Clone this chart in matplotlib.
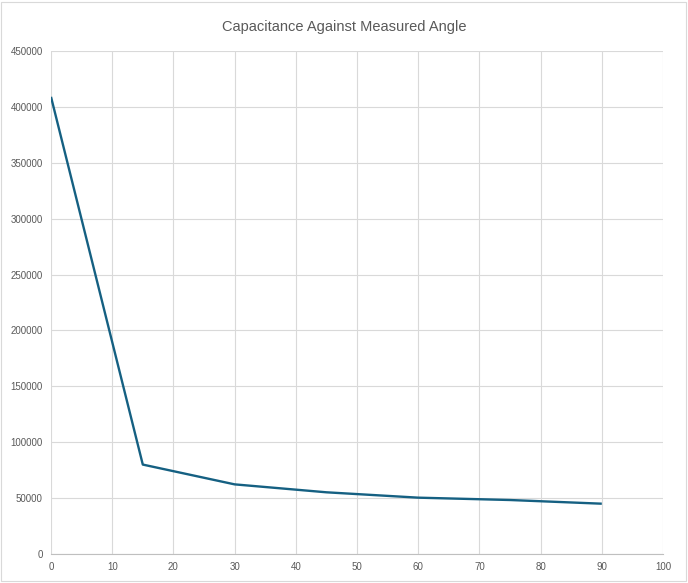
import matplotlib.pyplot as plt
from matplotlib.patches import Rectangle

angle = [0, 15, 30, 45, 60, 75, 90]
capacitance = [409000, 80000, 62300, 55200, 50400, 48300, 45000]

plt.rcParams['font.family'] = ['Liberation Sans', 'DejaVu Sans']

fig = plt.figure(figsize=(6.88, 5.83), dpi=100)
ax = fig.add_axes([51 / 688, 29 / 583, 612 / 688, 503 / 583])

ax.plot(angle, capacitance, color='#156082', linewidth=1.7, solid_capstyle='butt')

ax.set_xlim(0, 100)
ax.set_ylim(0, 450000)
ax.set_xticks(range(0, 101, 10))
ax.set_yticks(range(0, 450001, 50000))
ax.grid(True, color='#d9d9d9', linewidth=0.8)
ax.set_axisbelow(True)
for s in ['top', 'right', 'left']:
    ax.spines[s].set_visible(False)
ax.spines['bottom'].set_color('#bfbfbf')
ax.spines['bottom'].set_linewidth(0.8)
ax.tick_params(length=0, labelsize=7, labelcolor='#595959', pad=6)

fig.text(0.5, 1 - 27 / 583, 'Capacitance Against Measured Angle', ha='center', va='center',
         fontsize=10.5, color='#595959')

fig.patches.append(Rectangle((1 / 688, 2 / 583), 685 / 688, 579 / 583, transform=fig.transFigure,
                             fill=False, edgecolor='#d9d9d9', linewidth=0.8))

fig.savefig('out.png', dpi=100)
